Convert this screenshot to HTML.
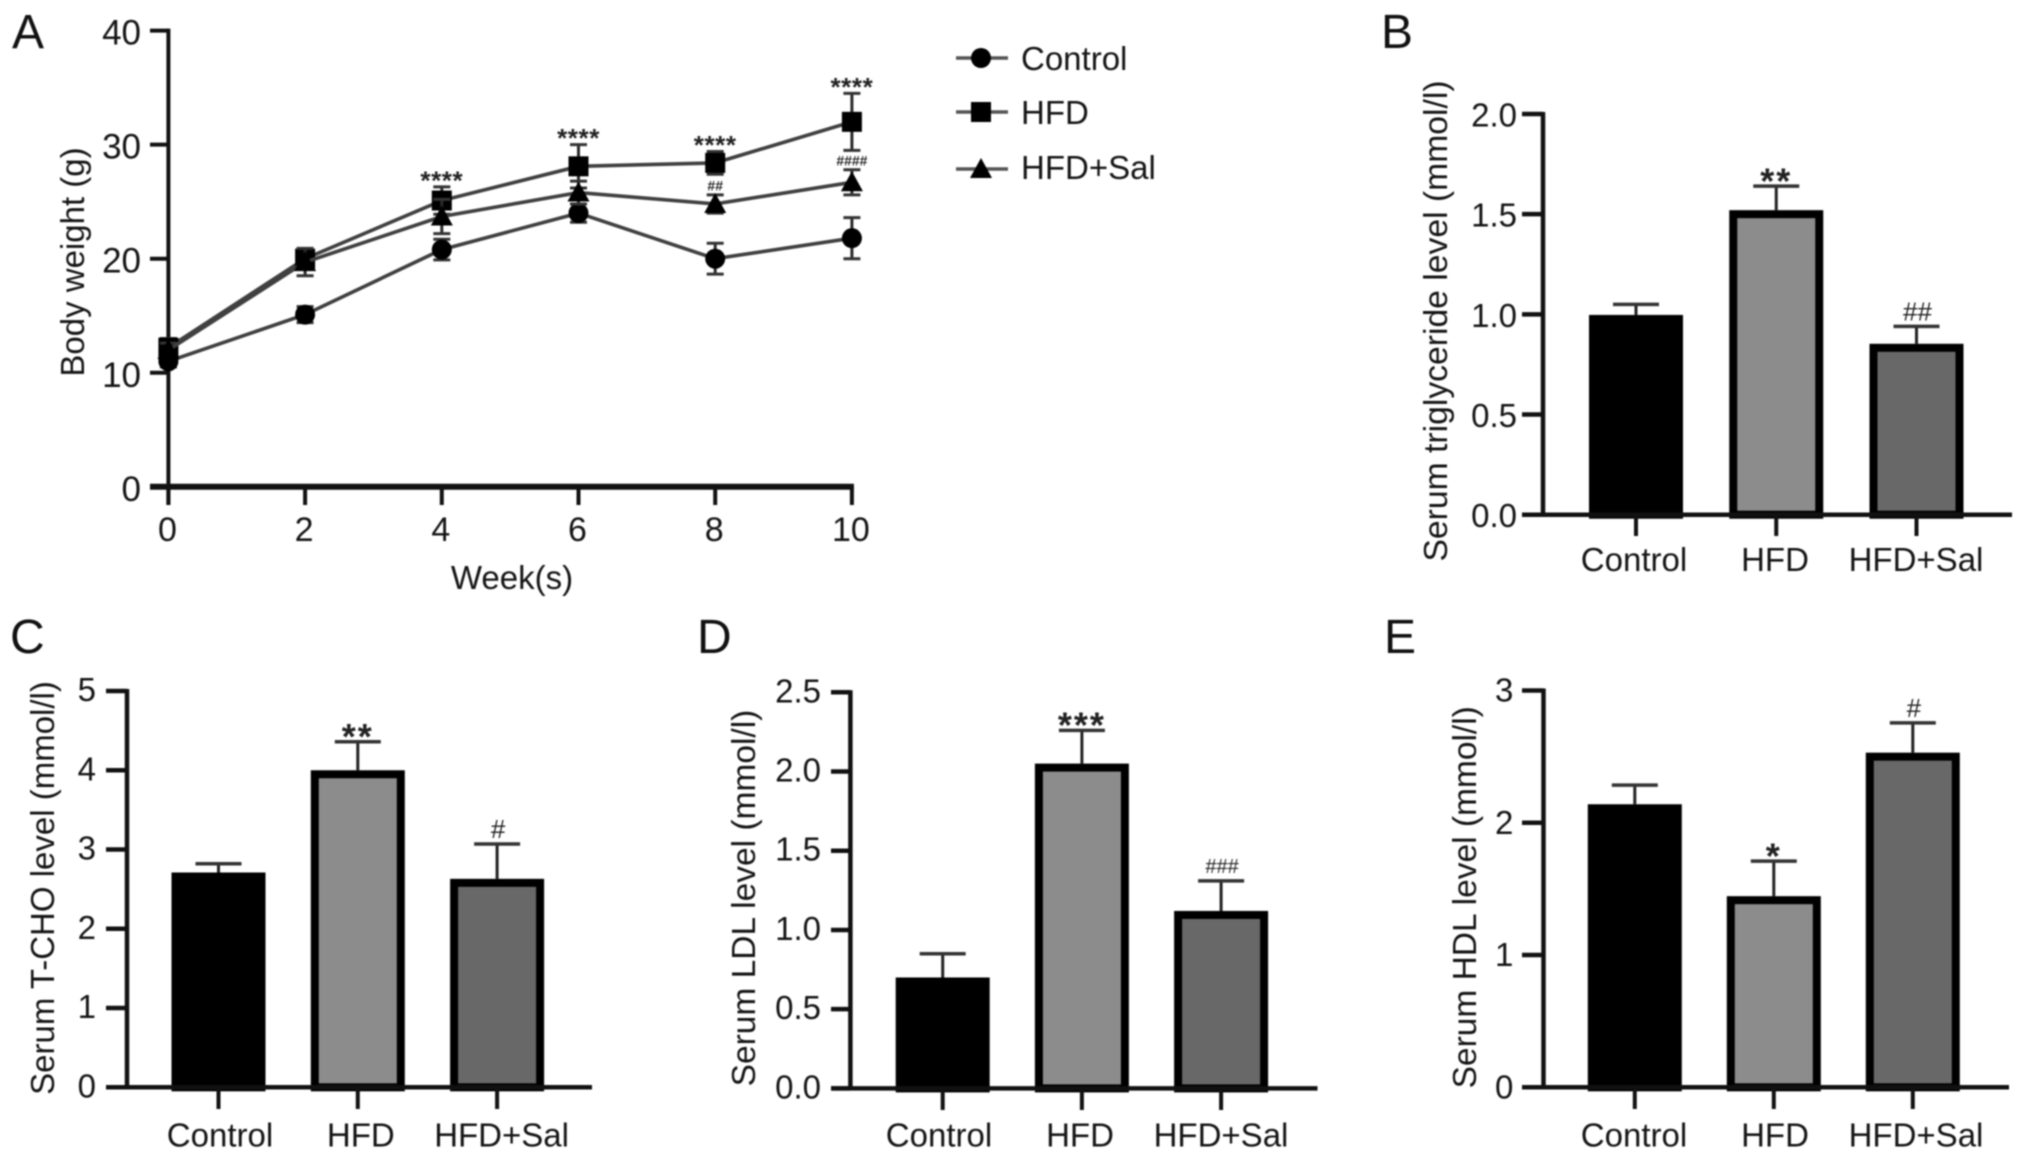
<!DOCTYPE html>
<html lang="en">
<head>
<meta charset="utf-8">
<title>Body weight and serum lipid levels</title>
<style>
html,body{margin:0;padding:0;background:#fff;}
#figure{display:block;filter:blur(0.7px);}
text{font-family:"Liberation Sans",sans-serif;fill:#151515;}
</style>
</head>
<body>
<svg id="figure" xmlns="http://www.w3.org/2000/svg" width="2032" height="1161" viewBox="0 0 2032 1161"></svg>
<script>
// ---------- Data: panel A ----------
var weeks = [0, 2, 4, 6, 8, 10];
var controlWeight = [11, 15.1, 20.8, 24, 20, 21.8];
var controlWeightErr = [0.5, 0.7, 0.9, 0.8, 1.35, 1.8];
var hfdWeight = [12.2, 20, 25.1, 28.1, 28.4, 32];
var hfdWeightErr = [0.8, 0.8, 1.2, 1.9, 1, 2.5];
var salWeight = [12, 19.7, 23.7, 25.8, 24.8, 26.7];
var salWeightErr = [0.6, 1.2, 1.5, 1, 0.8, 1.1];
var weightTicks = [0, 10, 20, 30, 40];
var hfdSignificance = ['', '', '****', '****', '****', '****'];
var salSignificance = ['', '', '', '', '##', '####'];
// ---------- Data: bar panels ----------
var groups = ['Control', 'HFD', 'HFD+Sal'];
var tgMeans = [0.997, 1.52, 0.853];
var tgErrs = [0.053, 0.12, 0.087];
var tgSig = ['', '**', '##'];
var tgTicks = ['0.0', '0.5', '1.0', '1.5', '2.0'];
var tchoMeans = [2.71, 4.0, 2.63];
var tchoErrs = [0.11, 0.36, 0.44];
var tchoSig = ['', '**', '#'];
var tchoTicks = ['0', '1', '2', '3', '4', '5'];
var ldlMeans = [0.70, 2.05, 1.12];
var ldlErrs = [0.15, 0.21, 0.19];
var ldlSig = ['', '***', '###'];
var ldlTicks = ['0.0', '0.5', '1.0', '1.5', '2.0', '2.5'];
var hdlMeans = [2.14, 1.445, 2.53];
var hdlErrs = [0.145, 0.265, 0.225];
var hdlSig = ['', '*', '#'];
var hdlTicks = ['0', '1', '2', '3'];

var NS = 'http://www.w3.org/2000/svg';
var root = document.getElementById('figure');
function make(tag, attrs, parent) {
  var e = document.createElementNS(NS, tag);
  for (var k in attrs) e.setAttribute(k, attrs[k]);
  (parent || root).appendChild(e);
  return e;
}
function line(parent, x1, y1, x2, y2, w, color) {
  return make('line', {x1: x1, y1: y1, x2: x2, y2: y2, stroke: color || '#111', 'stroke-width': w}, parent);
}
function label(parent, str, x, y, size, anchor, rot, weight) {
  var attrs = {x: x, y: y, 'font-size': size, 'text-anchor': anchor || 'middle'};
  if (rot) attrs.transform = 'rotate(-90 ' + x + ' ' + y + ')';
  if (weight) attrs['font-weight'] = weight;
  var t = make('text', attrs, parent);
  t.textContent = str;
  return t;
}
// Significance marks are placed by their visual centre.
function sigMark(parent, str, cx, cy, small) {
  var isStar = str.charAt(0) === '*';
  var size = isStar ? (small ? 26 : 36) : (small ? 14 : (str === '###' ? 20 : 26));
  var dy = isStar ? 0.56 * size : 0.35 * size;
  var t = label(parent, str, cx, cy + dy, size, 'middle', false, (isStar || small) ? 'bold' : 'normal');
  if (isStar) t.setAttribute('letter-spacing', small ? 0.6 : 2);
  t.style.fill = '#222';
  return t;
}

// ---------- Panel letters ----------
var letters = [['A', 12, 48], ['B', 1381, 48], ['C', 10, 653], ['D', 697, 653], ['E', 1384, 653]];
letters.forEach(function (l) {
  var t = label(root, l[0], l[1], l[2], 48, 'start');
  t.style.fill = '#111';
  
  
});

// ---------- Panel A ----------
(function () {
  var g = make('g', {});
  
  
  var xA = function (w) { return 168.4 + (w / 10) * 683.5; };
  var yA = function (v) { return 486.8 - (v / 40) * 456.2; };
  var series = [
    {key: 'control', vals: controlWeight, errs: controlWeightErr, shape: 'circle'},
    {key: 'hfd', vals: hfdWeight, errs: hfdWeightErr, shape: 'square'},
    {key: 'hfd-sal', vals: salWeight, errs: salWeightErr, shape: 'triangle'}
  ];
  function marker(parent, shape, cx, cy) {
    if (shape === 'circle') return make('circle', {cx: cx, cy: cy, r: 10, fill: '#000'}, parent);
    if (shape === 'square') return make('rect', {x: cx - 10, y: cy - 10, width: 20, height: 20, fill: '#000'}, parent);
    return make('polygon', {points: (cx - 11) + ',' + (cy + 9) + ' ' + (cx + 11) + ',' + (cy + 9) + ' ' + cx + ',' + (cy - 11), fill: '#000'}, parent);
  }
  // axes
  var axY = line(g, xA(0), yA(40) - 2, xA(0), 505, 4);
  
  
  var axX = line(g, 150, yA(0), xA(10) + 2, yA(0), 6);
  
  
  weightTicks.forEach(function (v) {
    line(g, 150, yA(v), xA(0), yA(v), 4);
    var t = label(g, String(v), 141, yA(v) + 14, 35, 'end');
    
    
  });
  weeks.forEach(function (w) {
    line(g, xA(w), yA(0), xA(w), 505, 4);
    var t = label(g, String(w), xA(w) - 1, 541, 34);
    
    
  });
  var xt = label(g, 'Week(s)', 512, 589, 33);
  
  
  var yt = label(g, 'Body weight (g)', 84, 262, 33, 'middle', true);
  
  
  // series
  series.forEach(function (s) {
    var sg = make('g', {}, g);
    
    
    s.vals.forEach(function (v, i) {
      var cx = xA(weeks[i]);
      line(sg, cx, yA(v - s.errs[i]), cx, yA(v + s.errs[i]), 3, '#2a2a2a');
      line(sg, cx - 8.5, yA(v + s.errs[i]), cx + 8.5, yA(v + s.errs[i]), 3, '#333');
      line(sg, cx - 8.5, yA(v - s.errs[i]), cx + 8.5, yA(v - s.errs[i]), 3, '#333');
    });
    var pts = s.vals.map(function (v, i) { return xA(weeks[i]) + ',' + yA(v); }).join(' ');
    var pl = make('polyline', {points: pts, fill: 'none', stroke: '#404040', 'stroke-width': 3.6}, sg);
    
    
    s.vals.forEach(function (v, i) {
      var m = marker(sg, s.shape, xA(weeks[i]), yA(v));
      
      
    });
  });
  hfdSignificance.forEach(function (str, i) {
    if (!str) return;
    var t = sigMark(g, str, xA(weeks[i]), yA(hfdWeight[i] + hfdWeightErr[i]) - 12, true);
    
    
  });
  salSignificance.forEach(function (str, i) {
    if (!str) return;
    var t = sigMark(g, str, xA(weeks[i]), yA(salWeight[i] + salWeightErr[i]) - 9, true);
    
    
  });
  // legend
  var lg = make('g', {}, g);
  
  
  [['Control', 'circle', 58, 70], ['HFD', 'square', 112, 124], ['HFD+Sal', 'triangle', 169, 179]].forEach(function (row) {
    var e = make('g', {}, lg);
    
    
    line(e, 956, row[2], 1008, row[2], 3.6, '#555');
    marker(e, row[1], 981, row[2]);
    label(e, row[0], 1021, row[3], 33, 'start');
  });
})();

// ---------- Bar panels ----------
var barLayouts = {
  b: {axisX: 1543, axisTop: 114, axisZero: 514.7, tickLeft: 1522, axisRight: 2012, tickBottom: 536, barX0: 1636, barStep: 140.25, labelX0: 1634, labelStep: 141, labelY: 571, tickRight: 1517, tickDy: 12.5, titleX: 1447, titleY: 321, titleSize: 33.7},
  c: {axisX: 127, axisTop: 691, axisZero: 1087.3, tickLeft: 106, axisRight: 592, tickBottom: 1109, barX0: 218.5, barStep: 139.3, labelX0: 220, labelStep: 140.8, labelY: 1146.7, tickRight: 96, tickDy: 10, titleX: 54, titleY: 888, titleSize: 33},
  d: {axisX: 850.4, axisTop: 692.3, axisZero: 1088.4, tickLeft: 831, axisRight: 1317.5, tickBottom: 1110, barX0: 942.7, barStep: 139.2, labelX0: 939, labelStep: 141, labelY: 1146.7, tickRight: 821, tickDy: 10, titleX: 755, titleY: 898, titleSize: 33.5},
  e: {axisX: 1543.5, axisTop: 690.5, axisZero: 1087.3, tickLeft: 1522, axisRight: 2009, tickBottom: 1109, barX0: 1634.8, barStep: 139, labelX0: 1634, labelStep: 141, labelY: 1146.7, tickRight: 1513.4, tickDy: 11, titleX: 1476, titleY: 897.3, titleSize: 33.5}
};
var barFills = ['#000000', '#8c8c8c', '#686868'];

function barPanel(name, layout, title, ticks, means, errs, sigs) {
  var g = make('g', {});
  
  
  var top = parseFloat(ticks[ticks.length - 1]);
  var yS = function (v) { return layout.axisZero - (v / top) * (layout.axisZero - layout.axisTop); };
  var xS = function (i) { return layout.barX0 + i * layout.barStep; };
  var barW = 94, stroke = 8;
  means.forEach(function (m, i) {
    var cx = xS(i);
    var capY = yS(m + errs[i]);
    var st = line(g, cx, yS(m), cx, capY, 3, '#222');
    
    
    line(g, cx - 23, capY, cx + 23, capY, 3.5, '#333');
    var r = make('rect', {
      x: cx - barW / 2 + stroke / 2,
      y: yS(m) + stroke / 2,
      width: barW - stroke,
      height: layout.axisZero - yS(m) - stroke / 2,
      fill: barFills[i], stroke: '#000', 'stroke-width': stroke
    }, g);
    
    
    if (sigs[i]) {
      var isStar = sigs[i].charAt(0) === '*';
      var t = sigMark(g, sigs[i], cx + (isStar ? 0 : 1), capY - (isStar ? 13 : 15), false);
      
      
    }
    line(g, cx, layout.axisZero, cx, layout.tickBottom, 4);
    var xl = label(g, groups[i], layout.labelX0 + i * layout.labelStep, layout.labelY, 33);
    
    
  });
  var axY = line(g, layout.axisX, layout.axisTop - 2, layout.axisX, layout.axisZero + 2, 4.5);
  
  
  var axX = line(g, layout.tickLeft, layout.axisZero, layout.axisRight, layout.axisZero, 4.5);
  
  
  ticks.forEach(function (tk) {
    var v = parseFloat(tk);
    line(g, layout.tickLeft, yS(v), layout.axisX, yS(v), 4.5);
    var yl = label(g, tk, layout.tickRight, yS(v) + layout.tickDy, 33, 'end');
    
    
  });
  var yt = label(g, title, layout.titleX, layout.titleY, layout.titleSize, 'middle', true);
  
  
}
barPanel('triglyceride-bar-chart', barLayouts.b, 'Serum triglyceride level (mmol/l)', tgTicks, tgMeans, tgErrs, tgSig);
barPanel('t-cho-bar-chart', barLayouts.c, 'Serum T-CHO level (mmol/l)', tchoTicks, tchoMeans, tchoErrs, tchoSig);
barPanel('ldl-bar-chart', barLayouts.d, 'Serum LDL level (mmol/l)', ldlTicks, ldlMeans, ldlErrs, ldlSig);
barPanel('hdl-bar-chart', barLayouts.e, 'Serum HDL level (mmol/l)', hdlTicks, hdlMeans, hdlErrs, hdlSig);
</script>
</body>
</html>
